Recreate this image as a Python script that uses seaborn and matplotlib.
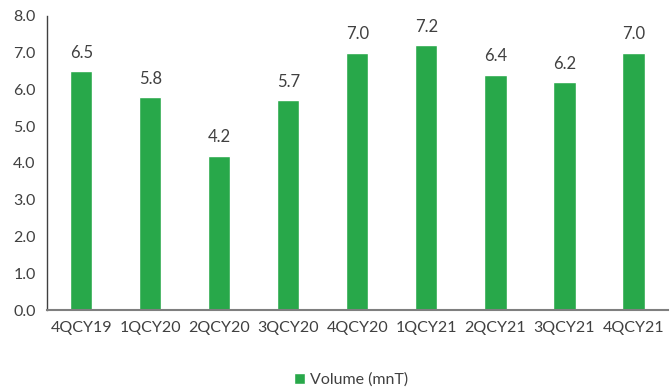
import matplotlib
matplotlib.use("Agg")
import matplotlib.pyplot as plt
import seaborn as sns
import pandas as pd

quarters = ["4QCY19", "1QCY20", "2QCY20", "3QCY20", "4QCY20", "1QCY21", "2QCY21", "3QCY21", "4QCY21"]
volume = [6.5, 5.8, 4.2, 5.7, 7.0, 7.2, 6.4, 6.2, 7.0]
y_ticks = [0.0, 1.0, 2.0, 3.0, 4.0, 5.0, 6.0, 7.0, 8.0]

sns.set_theme(style="white")
plt.rcParams["font.family"] = ["Lato", "DejaVu Sans"]

GREEN = "#28a84a"
TEXT = "#404040"

df = pd.DataFrame({"Quarter": quarters, "Volume (mnT)": volume})

fig = plt.figure(figsize=(6.70, 3.89), dpi=100)
ax = fig.add_axes([0.070, 0.203, 0.927, 0.756])

sns.barplot(data=df, x="Quarter", y="Volume (mnT)", color=GREEN, width=0.32,
            saturation=1, ax=ax, label="Volume (mnT)")

for i, v in enumerate(volume):
    ax.text(i, v + 0.28, f"{v:.1f}", ha="center", va="bottom", fontsize=12, color=TEXT)

ax.set_ylim(0, 8)
ax.set_yticks(y_ticks)
ax.set_yticklabels([f"{t:.1f}" for t in y_ticks])
ax.set_xlim(-0.5, len(quarters) - 0.5)
ax.set_xlabel("")
ax.set_ylabel("")
ax.tick_params(axis="both", labelsize=11.5, colors=TEXT, length=0, pad=8)

for side in ["top", "right"]:
    ax.spines[side].set_visible(False)
ax.spines["left"].set_color("#404040")
ax.spines["left"].set_linewidth(1.0)
ax.spines["bottom"].set_color("#7f7f7f")
ax.spines["bottom"].set_linewidth(1.5)

ax.legend(loc="lower center", bbox_to_anchor=(0.49, -0.31), frameon=False,
          fontsize=11.5, handlelength=0.7, handleheight=0.7, handletextpad=0.3,
          labelcolor=TEXT)

fig.savefig("out.png", dpi=100)
